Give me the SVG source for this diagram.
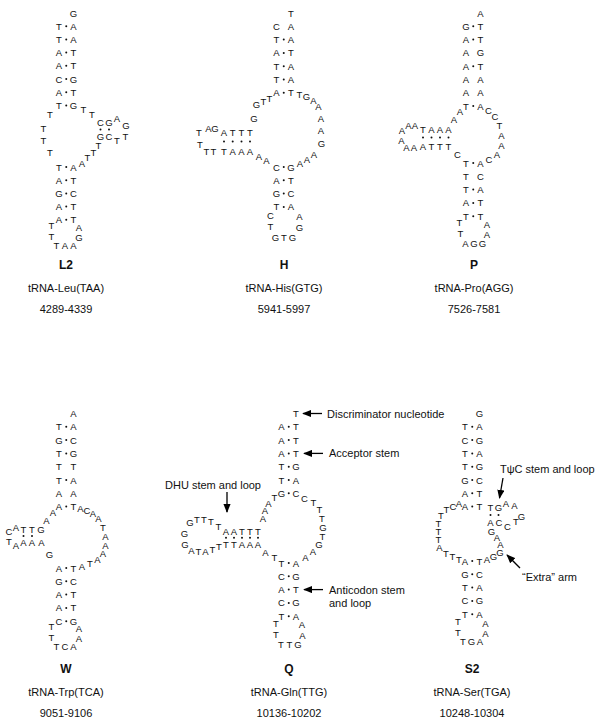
<svg xmlns="http://www.w3.org/2000/svg" width="600" height="728" viewBox="0 0 600 728">
<style>
text{font-family:"Liberation Sans",Arial,Helvetica,sans-serif;fill:#111}
.n{font-size:9.5px;text-anchor:middle;dominant-baseline:central}
.t{font-size:11px;text-anchor:middle;dominant-baseline:central}
.h{font-size:12px;font-weight:bold;text-anchor:middle;dominant-baseline:central}
.a{font-size:11px;dominant-baseline:central}
.d{fill:#111}
.ar{stroke:#000;stroke-width:1.3;fill:none;marker-end:url(#ah)}
</style>
<defs>
<marker id="ah" viewBox="0 0 10 8" refX="9" refY="4" markerWidth="9" markerHeight="7.5" markerUnits="userSpaceOnUse" orient="auto"><path d="M0,0 L10,4 L0,8 z" fill="#000"/></marker>
</defs>
<rect width="600" height="728" fill="#fff"/>

<g id="L2">
<text class="n" x="73.5" y="13">G</text>
<text class="n" x="59" y="26.2">T</text><circle class="d" cx="66.25" cy="26.2" r="1"/><text class="n" x="73.5" y="26.2">A</text>
<text class="n" x="59" y="39.4">T</text><circle class="d" cx="66.25" cy="39.4" r="1"/><text class="n" x="73.5" y="39.4">A</text>
<text class="n" x="59" y="52.6">A</text><circle class="d" cx="66.25" cy="52.6" r="1"/><text class="n" x="73.5" y="52.6">T</text>
<text class="n" x="59" y="65.8">A</text><circle class="d" cx="66.25" cy="65.8" r="1"/><text class="n" x="73.5" y="65.8">T</text>
<text class="n" x="59" y="79">C</text><circle class="d" cx="66.25" cy="79" r="1"/><text class="n" x="73.5" y="79">G</text>
<text class="n" x="59" y="92.2">A</text><circle class="d" cx="66.25" cy="92.2" r="1"/><text class="n" x="73.5" y="92.2">T</text>
<text class="n" x="59" y="105.4">T</text><circle class="d" cx="66.25" cy="105.4" r="1"/><text class="n" x="73.5" y="105.4">G</text>
<text class="n" x="83.5" y="109.5">T</text><text class="n" x="92" y="114">T</text>
<text class="n" x="100.5" y="122">C</text><text class="n" x="109" y="122">G</text><text class="n" x="117" y="118">A</text><text class="n" x="126" y="125">G</text>
<circle class="d" cx="100.5" cy="129.5" r="1"/><circle class="d" cx="109" cy="129.5" r="1"/>
<text class="n" x="100.5" y="136.5">G</text><text class="n" x="109" y="136.5">C</text><text class="n" x="117" y="140.5">T</text><text class="n" x="125.5" y="136.5">T</text>
<text class="n" x="98.5" y="145.5">T</text><text class="n" x="93.5" y="152">T</text><text class="n" x="87.5" y="157.5">T</text><text class="n" x="82" y="163">A</text>
<text class="n" x="50" y="114">T</text><text class="n" x="43.5" y="128">T</text><text class="n" x="43.5" y="140.5">T</text><text class="n" x="50" y="152.5">T</text>
<text class="n" x="59" y="167">T</text><circle class="d" cx="66.25" cy="167" r="1"/><text class="n" x="73.5" y="167">A</text>
<text class="n" x="59" y="180.2">A</text><circle class="d" cx="66.25" cy="180.2" r="1"/><text class="n" x="73.5" y="180.2">T</text>
<text class="n" x="59" y="193.4">G</text><circle class="d" cx="66.25" cy="193.4" r="1"/><text class="n" x="73.5" y="193.4">C</text>
<text class="n" x="59" y="206.6">A</text><circle class="d" cx="66.25" cy="206.6" r="1"/><text class="n" x="73.5" y="206.6">T</text>
<text class="n" x="59" y="219.8">A</text><circle class="d" cx="66.25" cy="219.8" r="1"/><text class="n" x="73.5" y="219.8">T</text>
<text class="n" x="51.5" y="225">T</text><text class="n" x="51.5" y="236">T</text>
<text class="n" x="56.5" y="245.5">T</text><text class="n" x="65" y="245.5">A</text><text class="n" x="73.5" y="245.5">A</text>
<text class="n" x="79" y="237">G</text><text class="n" x="79" y="227">A</text>
<text class="h" x="66" y="265">L2</text>
<text class="t" x="66" y="288">tRNA-Leu(TAA)</text>
<text class="t" x="66" y="309">4289-4339</text>
</g>

<g id="H">
<text class="n" x="291" y="13">T</text>
<text class="n" x="276.5" y="26.3">C</text><text class="n" x="291" y="26.3">A</text>
<text class="n" x="276.5" y="39.6">T</text><circle class="d" cx="283.75" cy="39.6" r="1"/><text class="n" x="291" y="39.6">A</text>
<text class="n" x="276.5" y="52.9">A</text><circle class="d" cx="283.75" cy="52.9" r="1"/><text class="n" x="291" y="52.9">T</text>
<text class="n" x="276.5" y="66.2">T</text><circle class="d" cx="283.75" cy="66.2" r="1"/><text class="n" x="291" y="66.2">A</text>
<text class="n" x="276.5" y="79.5">T</text><circle class="d" cx="283.75" cy="79.5" r="1"/><text class="n" x="291" y="79.5">A</text>
<text class="n" x="276.5" y="92.8">A</text><circle class="d" cx="283.75" cy="92.8" r="1"/><text class="n" x="291" y="92.8">T</text>
<text class="n" x="299.5" y="94">T</text><text class="n" x="306.5" y="96.5">G</text><text class="n" x="313.5" y="100">A</text><text class="n" x="318.5" y="106">A</text>
<text class="n" x="321" y="118">A</text><text class="n" x="321" y="130">A</text><text class="n" x="321.5" y="143">G</text>
<text class="n" x="314" y="154">A</text><text class="n" x="307" y="159">A</text><text class="n" x="300" y="163">A</text>
<text class="n" x="269.5" y="98">T</text><text class="n" x="263.5" y="101">T</text><text class="n" x="256.5" y="104">G</text><text class="n" x="254" y="118">G</text>
<text class="n" x="199" y="132">T</text><text class="n" x="208.5" y="128">A</text><text class="n" x="215" y="128">G</text>
<text class="n" x="224" y="132">A</text><text class="n" x="232.7" y="132">T</text><text class="n" x="241.5" y="132">T</text><text class="n" x="250" y="132">T</text>
<circle class="d" cx="224" cy="141.5" r="1"/><circle class="d" cx="232.7" cy="141.5" r="1"/><circle class="d" cx="241.5" cy="141.5" r="1"/><circle class="d" cx="250" cy="141.5" r="1"/>
<text class="n" x="200" y="144">T</text><text class="n" x="206.5" y="151.5">T</text><text class="n" x="213.5" y="151.5">T</text>
<text class="n" x="224" y="151">T</text><text class="n" x="232.7" y="151">A</text><text class="n" x="241.5" y="151">A</text><text class="n" x="250" y="151">A</text>
<text class="n" x="259" y="156">A</text><text class="n" x="266.5" y="160">A</text>
<text class="n" x="276.5" y="167">C</text><circle class="d" cx="283.75" cy="167" r="1"/><text class="n" x="291" y="167">G</text>
<text class="n" x="276.5" y="180.3">A</text><circle class="d" cx="283.75" cy="180.3" r="1"/><text class="n" x="291" y="180.3">T</text>
<text class="n" x="276.5" y="193.6">G</text><circle class="d" cx="283.75" cy="193.6" r="1"/><text class="n" x="291" y="193.6">C</text>
<text class="n" x="276.5" y="206.9">T</text><circle class="d" cx="283.75" cy="206.9" r="1"/><text class="n" x="291" y="206.9">A</text>
<text class="n" x="270.5" y="215">C</text><text class="n" x="270.5" y="226.5">T</text>
<text class="n" x="275.5" y="237">G</text><text class="n" x="284" y="237">T</text><text class="n" x="292.5" y="237">G</text>
<text class="n" x="299.5" y="227">G</text><text class="n" x="299.5" y="216">A</text>
<text class="h" x="284" y="265">H</text>
<text class="t" x="284" y="288">tRNA-His(GTG)</text>
<text class="t" x="284" y="309">5941-5997</text>
</g>

<g id="P">
<text class="n" x="480.5" y="13">A</text>
<text class="n" x="466" y="26.3">G</text><circle class="d" cx="473.25" cy="26.3" r="1"/><text class="n" x="480.5" y="26.3">T</text>
<text class="n" x="466" y="39.6">A</text><circle class="d" cx="473.25" cy="39.6" r="1"/><text class="n" x="480.5" y="39.6">T</text>
<text class="n" x="466" y="52.9">A</text><text class="n" x="480.5" y="52.9">G</text>
<text class="n" x="466" y="66.2">A</text><circle class="d" cx="473.25" cy="66.2" r="1"/><text class="n" x="480.5" y="66.2">T</text>
<text class="n" x="466" y="79.5">A</text><text class="n" x="480.5" y="79.5">A</text>
<text class="n" x="466" y="92.8">A</text><text class="n" x="480.5" y="92.8">A</text>
<text class="n" x="466" y="106.1">T</text><circle class="d" cx="473.25" cy="106.1" r="1"/><text class="n" x="480.5" y="106.1">A</text>
<text class="n" x="488.5" y="110">C</text><text class="n" x="495" y="116.5">C</text><text class="n" x="499.5" y="125.5">T</text>
<text class="n" x="501.5" y="135.5">A</text><text class="n" x="501.5" y="145.5">A</text><text class="n" x="497" y="154">A</text><text class="n" x="489" y="159">C</text>
<text class="n" x="460" y="111.5">A</text><text class="n" x="454" y="119">A</text>
<text class="n" x="402" y="130">A</text><text class="n" x="408.5" y="125.5">A</text><text class="n" x="415" y="125.5">A</text>
<text class="n" x="423" y="129">T</text><text class="n" x="431.5" y="129">A</text><text class="n" x="440" y="129">A</text><text class="n" x="448.5" y="129">A</text>
<circle class="d" cx="423" cy="137.5" r="1"/><circle class="d" cx="431.5" cy="137.5" r="1"/><circle class="d" cx="440" cy="137.5" r="1"/><circle class="d" cx="448.5" cy="137.5" r="1"/>
<text class="n" x="401.5" y="140">A</text><text class="n" x="406.5" y="147">A</text><text class="n" x="414" y="147">A</text>
<text class="n" x="423" y="146">A</text><text class="n" x="431.5" y="146">T</text><text class="n" x="440" y="146">T</text><text class="n" x="448.5" y="146">T</text>
<text class="n" x="457.5" y="154">C</text>
<text class="n" x="466" y="163">T</text><circle class="d" cx="473.25" cy="163" r="1"/><text class="n" x="480.5" y="163">A</text>
<text class="n" x="466" y="176.3">T</text><text class="n" x="480.5" y="176.3">C</text>
<text class="n" x="466" y="189.6">T</text><circle class="d" cx="473.25" cy="189.6" r="1"/><text class="n" x="480.5" y="189.6">A</text>
<text class="n" x="466" y="202.9">A</text><circle class="d" cx="473.25" cy="202.9" r="1"/><text class="n" x="480.5" y="202.9">T</text>
<text class="n" x="466" y="216.2">T</text><circle class="d" cx="473.25" cy="216.2" r="1"/><text class="n" x="480.5" y="216.2">T</text>
<text class="n" x="459.5" y="222">T</text><text class="n" x="460.5" y="233">T</text>
<text class="n" x="465.5" y="243.5">A</text><text class="n" x="474" y="243.5">G</text><text class="n" x="482.5" y="243.5">G</text>
<text class="n" x="487" y="234">A</text><text class="n" x="487" y="224">A</text>
<text class="h" x="474" y="265">P</text>
<text class="t" x="474" y="288">tRNA-Pro(AGG)</text>
<text class="t" x="474" y="309">7526-7581</text>
</g>

<g id="W">
<text class="n" x="73.5" y="413.5">A</text>
<text class="n" x="59" y="426.8">T</text><circle class="d" cx="66.25" cy="426.8" r="1"/><text class="n" x="73.5" y="426.8">A</text>
<text class="n" x="59" y="440.1">G</text><circle class="d" cx="66.25" cy="440.1" r="1"/><text class="n" x="73.5" y="440.1">C</text>
<text class="n" x="59" y="453.4">T</text><circle class="d" cx="66.25" cy="453.4" r="1"/><text class="n" x="73.5" y="453.4">G</text>
<text class="n" x="59" y="466.7">T</text><text class="n" x="73.5" y="466.7">T</text>
<text class="n" x="59" y="480">T</text><circle class="d" cx="66.25" cy="480" r="1"/><text class="n" x="73.5" y="480">A</text>
<text class="n" x="59" y="493.3">A</text><text class="n" x="73.5" y="493.3">A</text>
<text class="n" x="59" y="506.6">A</text><circle class="d" cx="66.25" cy="506.6" r="1"/><text class="n" x="73.5" y="506.6">T</text>
<text class="n" x="80.5" y="508.5">A</text><text class="n" x="87" y="510.5">C</text><text class="n" x="93" y="513.5">A</text><text class="n" x="98.5" y="518">A</text>
<text class="n" x="103" y="527">T</text><text class="n" x="105.5" y="536">A</text><text class="n" x="105.5" y="545">A</text><text class="n" x="103" y="553.5">A</text>
<text class="n" x="97.5" y="559.5">A</text><text class="n" x="90" y="563.5">T</text><text class="n" x="82" y="566">A</text>
<text class="n" x="53" y="512.5">A</text><text class="n" x="46.5" y="520">A</text>
<text class="n" x="9" y="531">C</text><text class="n" x="16" y="527">A</text><text class="n" x="23.5" y="529.5">T</text><text class="n" x="32" y="529.5">T</text><text class="n" x="41" y="529.5">G</text>
<circle class="d" cx="23.5" cy="536" r="1"/><circle class="d" cx="32" cy="536" r="1"/>
<text class="n" x="9" y="541">T</text><text class="n" x="16" y="545.5">A</text><text class="n" x="23.5" y="542.5">A</text><text class="n" x="32" y="542.5">A</text><text class="n" x="41.5" y="542.5">A</text>
<text class="n" x="49.5" y="554">G</text>
<text class="n" x="59" y="568">A</text><circle class="d" cx="66.25" cy="568" r="1"/><text class="n" x="73.5" y="568">T</text>
<text class="n" x="59" y="581.3">G</text><circle class="d" cx="66.25" cy="581.3" r="1"/><text class="n" x="73.5" y="581.3">C</text>
<text class="n" x="59" y="594.6">A</text><circle class="d" cx="66.25" cy="594.6" r="1"/><text class="n" x="73.5" y="594.6">T</text>
<text class="n" x="59" y="607.9">A</text><circle class="d" cx="66.25" cy="607.9" r="1"/><text class="n" x="73.5" y="607.9">T</text>
<text class="n" x="59" y="621.2">C</text><circle class="d" cx="66.25" cy="621.2" r="1"/><text class="n" x="73.5" y="621.2">G</text>
<text class="n" x="51.5" y="626">T</text><text class="n" x="51.5" y="637">T</text>
<text class="n" x="56.5" y="646.5">T</text><text class="n" x="65" y="646.5">C</text><text class="n" x="73.5" y="646.5">A</text>
<text class="n" x="79" y="638">A</text><text class="n" x="79" y="628">A</text>
<text class="h" x="66" y="669">W</text>
<text class="t" x="66" y="692">tRNA-Trp(TCA)</text>
<text class="t" x="66" y="713">9051-9106</text>
</g>

<g id="Q">
<text class="n" x="296" y="413.5">T</text>
<text class="n" x="281.5" y="426.8">A</text><circle class="d" cx="288.75" cy="426.8" r="1"/><text class="n" x="296" y="426.8">T</text>
<text class="n" x="281.5" y="440.1">A</text><circle class="d" cx="288.75" cy="440.1" r="1"/><text class="n" x="296" y="440.1">T</text>
<text class="n" x="281.5" y="453.4">A</text><circle class="d" cx="288.75" cy="453.4" r="1"/><text class="n" x="296" y="453.4">T</text>
<text class="n" x="281.5" y="466.7">T</text><circle class="d" cx="288.75" cy="466.7" r="1"/><text class="n" x="296" y="466.7">G</text>
<text class="n" x="281.5" y="480">T</text><circle class="d" cx="288.75" cy="480" r="1"/><text class="n" x="296" y="480">A</text>
<text class="n" x="281.5" y="493.3">G</text><circle class="d" cx="288.75" cy="493.3" r="1"/><text class="n" x="296" y="493.3">C</text>
<text class="n" x="304.5" y="498.5">C</text><text class="n" x="313.5" y="502">T</text><text class="n" x="319.5" y="509.5">T</text><text class="n" x="322" y="518">T</text>
<text class="n" x="323" y="527">G</text><text class="n" x="322.5" y="536">T</text><text class="n" x="319" y="544.5">G</text><text class="n" x="313" y="551">A</text><text class="n" x="305.5" y="557">A</text>
<text class="n" x="274.5" y="497.5">T</text><text class="n" x="268.5" y="503">A</text><text class="n" x="265" y="510.5">A</text><text class="n" x="263" y="518.5">A</text>
<text class="n" x="226" y="531">A</text><text class="n" x="234" y="531">A</text><text class="n" x="242" y="531">T</text><text class="n" x="250" y="531">T</text><text class="n" x="258" y="531">T</text>
<circle class="d" cx="226" cy="537.8" r="1"/><circle class="d" cx="234" cy="537.8" r="1"/><circle class="d" cx="242" cy="537.8" r="1"/><circle class="d" cx="250" cy="537.8" r="1"/><circle class="d" cx="258" cy="537.8" r="1"/>
<text class="n" x="226" y="544.5">T</text><text class="n" x="234" y="544.5">T</text><text class="n" x="242" y="544.5">A</text><text class="n" x="250" y="544.5">A</text><text class="n" x="258" y="544.5">A</text>
<text class="n" x="218.5" y="526">T</text><text class="n" x="211" y="521.5">T</text><text class="n" x="204" y="519">T</text><text class="n" x="197" y="519">T</text><text class="n" x="190" y="522">G</text>
<text class="n" x="184.5" y="533">G</text>
<text class="n" x="185" y="544.5">G</text><text class="n" x="191.5" y="550.5">A</text><text class="n" x="198.5" y="551">T</text><text class="n" x="205.5" y="551">A</text><text class="n" x="212.5" y="549">T</text><text class="n" x="219" y="546.5">T</text>
<text class="n" x="265.5" y="552">A</text><text class="n" x="274.5" y="557.5">T</text>
<text class="n" x="281.5" y="563">T</text><circle class="d" cx="288.75" cy="563" r="1"/><text class="n" x="296" y="563">A</text>
<text class="n" x="281.5" y="576.3">C</text><circle class="d" cx="288.75" cy="576.3" r="1"/><text class="n" x="296" y="576.3">G</text>
<text class="n" x="281.5" y="589.6">A</text><circle class="d" cx="288.75" cy="589.6" r="1"/><text class="n" x="296" y="589.6">T</text>
<text class="n" x="281.5" y="602.9">C</text><circle class="d" cx="288.75" cy="602.9" r="1"/><text class="n" x="296" y="602.9">G</text>
<text class="n" x="281.5" y="616.2">T</text><circle class="d" cx="288.75" cy="616.2" r="1"/><text class="n" x="296" y="616.2">A</text>
<text class="n" x="276" y="623">T</text><text class="n" x="276" y="634.5">T</text>
<text class="n" x="281" y="644">T</text><text class="n" x="289.5" y="644">T</text><text class="n" x="298" y="644">G</text>
<text class="n" x="302.5" y="635">A</text><text class="n" x="302" y="624">A</text>
<text class="a" x="327" y="413.5">Discriminator nucleotide</text>
<text class="a" x="329" y="453.4">Acceptor stem</text>
<text class="a" x="165" y="485">DHU stem and loop</text>
<text class="a" x="329" y="589.6">Anticodon stem</text>
<text class="a" x="329" y="602.5">and loop</text>
<text class="h" x="289" y="669">Q</text>
<text class="t" x="289" y="692">tRNA-Gln(TTG)</text>
<text class="t" x="289" y="713">10136-10202</text>
</g>

<g id="S2">
<text class="n" x="479.5" y="413.5">G</text>
<text class="n" x="465" y="426.8">T</text><circle class="d" cx="472.25" cy="426.8" r="1"/><text class="n" x="479.5" y="426.8">A</text>
<text class="n" x="465" y="440.1">C</text><circle class="d" cx="472.25" cy="440.1" r="1"/><text class="n" x="479.5" y="440.1">G</text>
<text class="n" x="465" y="453.4">T</text><circle class="d" cx="472.25" cy="453.4" r="1"/><text class="n" x="479.5" y="453.4">A</text>
<text class="n" x="465" y="466.7">T</text><circle class="d" cx="472.25" cy="466.7" r="1"/><text class="n" x="479.5" y="466.7">G</text>
<text class="n" x="465" y="480">G</text><circle class="d" cx="472.25" cy="480" r="1"/><text class="n" x="479.5" y="480">C</text>
<text class="n" x="465" y="493.3">A</text><circle class="d" cx="472.25" cy="493.3" r="1"/><text class="n" x="479.5" y="493.3">T</text>
<text class="n" x="465" y="506.6">A</text><circle class="d" cx="472.25" cy="506.6" r="1"/><text class="n" x="479.5" y="506.6">T</text>
<text class="n" x="459" y="503">A</text><text class="n" x="453" y="506">C</text><text class="n" x="446.5" y="509.5">T</text><text class="n" x="441" y="515">T</text>
<text class="n" x="438.5" y="523">T</text><text class="n" x="438.5" y="531">T</text><text class="n" x="438.5" y="539">T</text><text class="n" x="439.5" y="547.5">A</text>
<text class="n" x="446" y="553">T</text><text class="n" x="452.5" y="556.5">T</text><text class="n" x="459" y="559">T</text>
<text class="n" x="490.5" y="507.5">T</text><text class="n" x="498.5" y="507.5">G</text><text class="n" x="506" y="503.5">A</text><text class="n" x="514.5" y="505">A</text>
<text class="n" x="521.5" y="516.5">G</text><text class="n" x="516" y="521.5">T</text><text class="n" x="507.5" y="526.5">C</text>
<text class="n" x="499" y="522.5">C</text><text class="n" x="490.5" y="522.5">A</text>
<circle class="d" cx="490.5" cy="515" r="1"/><circle class="d" cx="498.5" cy="515" r="1"/>
<text class="n" x="491.5" y="531">G</text><text class="n" x="497" y="537">A</text><text class="n" x="500.5" y="544">A</text>
<text class="n" x="500" y="552.5">G</text><text class="n" x="493.5" y="556.5">G</text><text class="n" x="487" y="559">A</text>
<text class="n" x="465" y="561">A</text><circle class="d" cx="472.25" cy="561" r="1"/><text class="n" x="479.5" y="561">T</text>
<text class="n" x="465" y="574.3">G</text><circle class="d" cx="472.25" cy="574.3" r="1"/><text class="n" x="479.5" y="574.3">C</text>
<text class="n" x="465" y="587.6">T</text><circle class="d" cx="472.25" cy="587.6" r="1"/><text class="n" x="479.5" y="587.6">A</text>
<text class="n" x="465" y="600.9">C</text><circle class="d" cx="472.25" cy="600.9" r="1"/><text class="n" x="479.5" y="600.9">G</text>
<text class="n" x="465" y="614.2">T</text><circle class="d" cx="472.25" cy="614.2" r="1"/><text class="n" x="479.5" y="614.2">A</text>
<text class="n" x="458" y="621">T</text><text class="n" x="458" y="632">T</text>
<text class="n" x="463" y="641.5">T</text><text class="n" x="471.5" y="641.5">G</text><text class="n" x="480" y="641.5">A</text>
<text class="n" x="485.5" y="633">A</text><text class="n" x="485.5" y="623">A</text>
<text class="a" x="500" y="469">TψC stem and loop</text>
<text class="a" x="522" y="577">“Extra” arm</text>
<text class="h" x="472" y="669">S2</text>
<text class="t" x="472" y="692">tRNA-Ser(TGA)</text>
<text class="t" x="472" y="713">10248-10304</text>
</g>

<g id="connectors">
<line class="ar" x1="322" y1="413.5" x2="303" y2="413.5"/>
<line class="ar" x1="323" y1="453.4" x2="304" y2="453.4"/>
<line class="ar" x1="323" y1="589.6" x2="304" y2="589.6"/>
<line class="ar" x1="227" y1="492" x2="227" y2="512"/>
<line class="ar" x1="503" y1="478" x2="499.5" y2="498"/>
<line class="ar" x1="520" y1="568" x2="507" y2="555"/>
</g>
</svg>
